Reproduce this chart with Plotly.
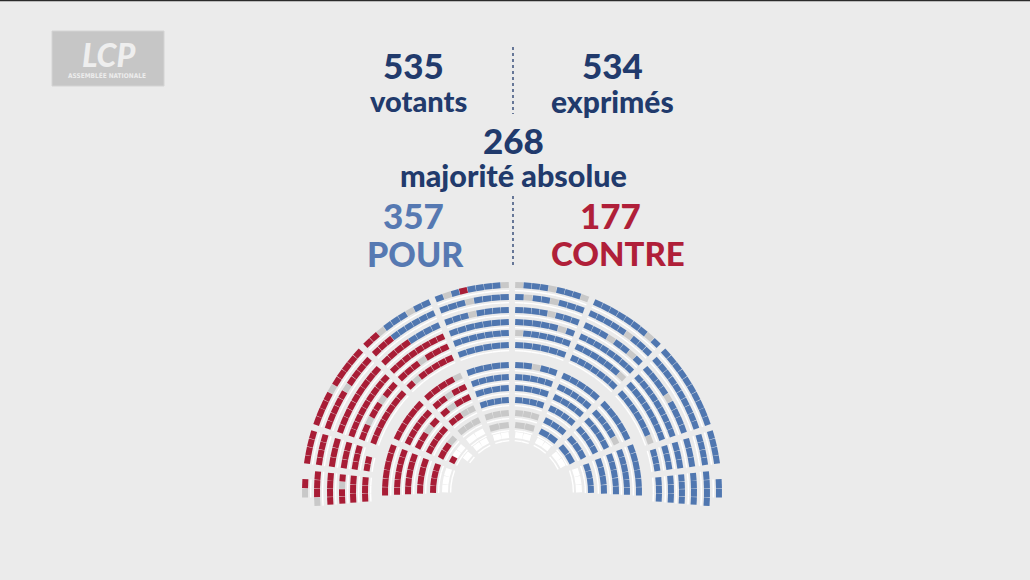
import math
import plotly.graph_objects as go

W, H = 1030, 580

# ---------------- header figures ----------------
VOTANTS = 535
EXPRIMES = 534
MAJORITE = 268
POUR = 357
CONTRE = 177
LABELS = {"votants": "votants", "exprimes": "exprimés", "majorite": "majorité absolue",
          "pour": "POUR", "contre": "CONTRE"}

# ---------------- hemicycle seats (left -> right, per sector) ----------------
# B = pour, R = contre, G = non-votant, W = siège blanc, . = pas de siège
ROW_01 = [".GR.", "RRRR", "RRRRGRRRRR", "RRGBBBGBB", "BGBRBBBBG", "GBBBGBBBG", "BBBBBBBGB", "BBBBBBBBBB", "BBBB", ".BB."]
ROW_02 = ["GRRR", "RRRR", "RRRRRGRRRR", "RRRBBBBBB", "BBBGBBBB", "BGBBGBBB", "BBBBBGBBB", "BBBBBBBBBB", "BBBB", "BBBB"]
ROW_03 = ["RRRR", "RRR", "RRRRRRRRR", "RRRRBBBB", "BBBGBBBB", "BBBBGBBB", "BBBGBBGB", "BBBBGBBBB", "BBB", "BBBB"]
ROW_04 = ["RRGR", "RRR", "RRRRRRRRR", "RRRRRRRR", "BBBBBBB", "BBBBBGB", "BBBBBBBB", "BBBBBBBBB", "BBB", "BBBB"]
ROW_05 = ["RRR", "RRR", "RRGRRGRR", "RRRGRRR", "BBBBBBB", "GBBBBBB", "BBBBBBG", "BBBBBBBB", "BBB", "BBB"]
ROW_06 = ["RRR", "RR.", "RRRRRRR", "RGRRRRR", "BBBBBB", "BBBBBB", "BBBBBBB", "BBBBBBG", "BBB", "BBB"]
ROW_07 = ["RRRRRR", "RRRRR", "RRRRG", "BBBBB", "BBGBB", "BBBBB", "BBBBB", "BBBBBB"]
ROW_08 = ["RRRRRR", "RRRRR", "RRGRR", "BBBBB", "BBBBB", "BBBBB", "BBBBG", "BBBBBB"]
ROW_09 = ["RRRRR", "RRGR", "RGRR", "BBBB", "BBBB", "BBBB", "BBBB", "BBBBB"]
ROW_10 = ["RRRR", "RRRR", "RRGG", "BBBB", "BBBB", "BBBB", "BBBB", "BBBB"]
ROW_11 = ["RRRR", "RRG", "GGG", "GGG", "GGG", "BBB", "BBB", "BBBB"]
ROW_12 = ["WWW", "RWW", "WW", "GG", "GG", "BB", "BB", "WWW"]
ROW_13 = ["..", ".W", "WW", "WW", "WW", "WW", "WW", ".."]

ROWS = [ROW_01, ROW_02, ROW_03, ROW_04, ROW_05, ROW_06,
        ROW_07, ROW_08, ROW_09, ROW_10, ROW_11, ROW_12, ROW_13]

# ---------------- geometry / style ----------------
CX, CY = 512, 492
RADII = [207, 195, 182, 170, 159, 147, 127, 115, 104, 92, 79, 67, 57]
OUTER_EDGES = [185, 173, 162, 136, 112.5, 90, 67.5, 44, 18, 7, -5]
INNER_EDGES = [183, 157, 134, 112, 90, 68, 46, 23, -3]
AISLE = 6.0
SEAT_GAP = 0.35
SEAT_W = 6
DESK_OFF = 5.6

BG = "#ebebeb"
NAVY = "#213a6c"
COLORS = {"B": "#5077b0", "R": "#a81d36", "G": "#c8c8c8", "W": "#ffffff"}
NAMES = {"B": "Pour", "R": "Contre", "G": "Non-votant", "W": "Vacant"}


def arc(r, a0, a1):
    n = max(2, int(abs(a1 - a0) * math.pi / 180 * r / 2.5) + 2)
    xs, ys = [], []
    for k in range(n):
        t = math.radians(a0 + (a1 - a0) * k / (n - 1))
        xs.append(CX + r * math.cos(t))
        ys.append(CY - r * math.sin(t))
    return xs, ys


seat_xy = {c: ([], []) for c in COLORS}
desk_x, desk_y = [], []

for ri, row in enumerate(ROWS):
    r = RADII[ri]
    edges = OUTER_EDGES if ri < 6 else INNER_EDGES
    half = math.degrees(AISLE / 2 / r)
    g = math.degrees(SEAT_GAP / 2 / r)
    for si, seats in enumerate(row):
        a0 = edges[si] - half
        a1 = edges[si + 1] + half
        step = (a0 - a1) / len(seats)
        for k, code in enumerate(seats):
            s0 = a0 - k * step
            s1 = s0 - step
            if code == ".":
                continue
            xs, ys = arc(r, s0 - g, s1 + g)
            seat_xy[code][0].extend(xs + [None])
            seat_xy[code][1].extend(ys + [None])
            dx, dy = arc(r - DESK_OFF, s0, s1)
            desk_x.extend(dx + [None])
            desk_y.extend(dy + [None])

fig = go.Figure()
fig.add_trace(go.Scatter(x=desk_x, y=desk_y, mode="lines", hoverinfo="skip",
                         line=dict(color="#ffffff", width=1.4), showlegend=False))
for code in ["G", "W", "R", "B"]:
    xs, ys = seat_xy[code]
    fig.add_trace(go.Scatter(x=xs, y=ys, mode="lines", name=NAMES[code], hoverinfo="name",
                             line=dict(color=COLORS[code], width=SEAT_W), showlegend=False))

FONT = "Lato, 'Open Sans', sans-serif"


def txt(x, y, s, size, color, weight=900):
    fig.add_annotation(x=x, y=y, xref="x", yref="y", text=s, showarrow=False,
                       xanchor="center", yanchor="middle",
                       font=dict(family=FONT, size=size, color=color, weight=weight))


txt(413, 65, str(VOTANTS), 35, NAVY)
txt(418, 100, LABELS["votants"], 29, NAVY)
txt(612, 65, str(EXPRIMES), 35, NAVY)
txt(612, 101, LABELS["exprimes"], 30, NAVY)
txt(513, 140, str(MAJORITE), 35, NAVY)
txt(513, 175, LABELS["majorite"], 30.5, NAVY)
txt(413, 215, str(POUR), 35, "#5679b2")
txt(415, 253, LABELS["pour"], 34, "#5679b2")
txt(610, 215, str(CONTRE), 35, "#b01f39")
txt(618, 253, LABELS["contre"], 33, "#b01f39")

# dotted separators
for y0, y1 in [(47, 114), (196, 268)]:
    fig.add_shape(type="line", x0=513, x1=513, y0=y0, y1=y1, xref="x", yref="y",
                  line=dict(color=NAVY, width=1.3, dash="dot"))

# LCP logo
fig.add_shape(type="rect", x0=52, y0=31, x1=164, y1=86, xref="x", yref="y",
              fillcolor="#c6c6c6", line=dict(color="#d4d4d4", width=1))
fig.add_annotation(x=108, y=54, xref="x", yref="y", text="LCP", showarrow=False,
                   font=dict(family=FONT, size=32, color="#eeeeee", weight=900, style="italic"))
fig.add_annotation(x=107, y=75, xref="x", yref="y", text="ASSEMBLÉE NATIONALE", showarrow=False,
                   font=dict(family="'DejaVu Sans Condensed', sans-serif", size=6.5, color="#ececec", weight="bold"))

# top border line
fig.add_shape(type="line", x0=0, x1=W, y0=0.5, y1=0.5, xref="x", yref="y",
              line=dict(color="#2a2a2a", width=1.5))

fig.update_layout(
    width=W, height=H, margin=dict(l=0, r=0, t=0, b=0),
    paper_bgcolor=BG, plot_bgcolor=BG,
    xaxis=dict(range=[0, W], visible=False, fixedrange=True),
    yaxis=dict(range=[H, 0], visible=False, fixedrange=True),
    showlegend=False,
)

fig.write_html("out.html", config={"displayModeBar": False})
